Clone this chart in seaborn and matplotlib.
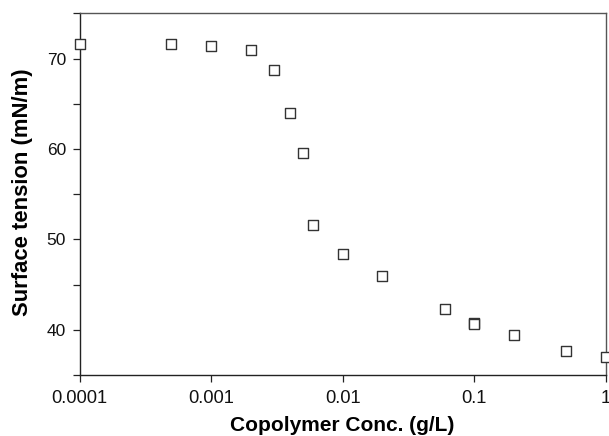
import matplotlib
matplotlib.use("Agg")
import matplotlib.pyplot as plt
import seaborn as sns
import pandas as pd
from matplotlib.ticker import FixedLocator, NullLocator

conc = [0.0001, 0.0005, 0.001, 0.002, 0.003, 0.004, 0.005, 0.006, 0.01, 0.02,
        0.06, 0.1, 0.1, 0.2, 0.5, 1.0]
tension = [71.6, 71.55, 71.4, 70.9, 68.75, 64.0, 59.6, 51.55, 48.4, 46.0,
           42.3, 40.73, 40.67, 39.45, 37.7, 37.0]
xtick_vals = [0.0001, 0.001, 0.01, 0.1, 1]
xtick_labels = ["0.0001", "0.001", "0.01", "0.1", "1"]
ytick_vals = [40, 50, 60, 70]
yminor_vals = [35, 45, 55, 65, 75]

sns.set_style("white")
plt.rcParams['font.family'] = ['Liberation Sans', 'DejaVu Sans']

df = pd.DataFrame({"conc": conc, "tension": tension})

fig = plt.figure(figsize=(6.09, 4.36), dpi=100)
ax = fig.add_axes([79.5/609, 1-375/436, (605.7-79.5)/609, (375-13.3)/436])

sns.scatterplot(data=df, x="conc", y="tension", ax=ax, marker="s", s=44,
                facecolor="white", edgecolor="#333333", linewidth=1.0,
                clip_on=False, zorder=3)

ax.set_xscale("log")
ax.set_xlim(1e-4, 1)
ax.set_ylim(35, 75)
ax.xaxis.set_major_locator(FixedLocator(xtick_vals))
ax.xaxis.set_minor_locator(NullLocator())
ax.set_xticklabels(xtick_labels)
ax.yaxis.set_major_locator(FixedLocator(ytick_vals))
ax.yaxis.set_minor_locator(FixedLocator(yminor_vals))

ax.tick_params(axis="both", which="both", direction="out", length=4.7, width=0.9,
               color="#222222", labelcolor="#111111")
ax.tick_params(axis="y", which="major", pad=5, labelsize=12.5)
ax.tick_params(axis="x", which="major", pad=6, labelsize=13.2)
ax.tick_params(axis="x", which="both", bottom=True)
ax.tick_params(axis="y", which="both", left=True)

for side in ["left", "bottom"]:
    ax.spines[side].set_color("#222222")
    ax.spines[side].set_linewidth(1.0)
for side in ["top", "right"]:
    ax.spines[side].set_visible(True)
    ax.spines[side].set_color("#555555")
    ax.spines[side].set_linewidth(1.0)

ax.set_xlabel("Copolymer Conc. (g/L)", fontsize=15, fontweight="bold", color="black")
ax.set_ylabel("Surface tension (mN/m)", fontsize=15.8, fontweight="bold", color="black")
ax.xaxis.set_label_coords(0.5, (375-416)/361.7)
ax.yaxis.set_label_coords((33-79.5)/526.2, (375-192.5)/361.7)

fig.savefig("out.png", dpi=100)
